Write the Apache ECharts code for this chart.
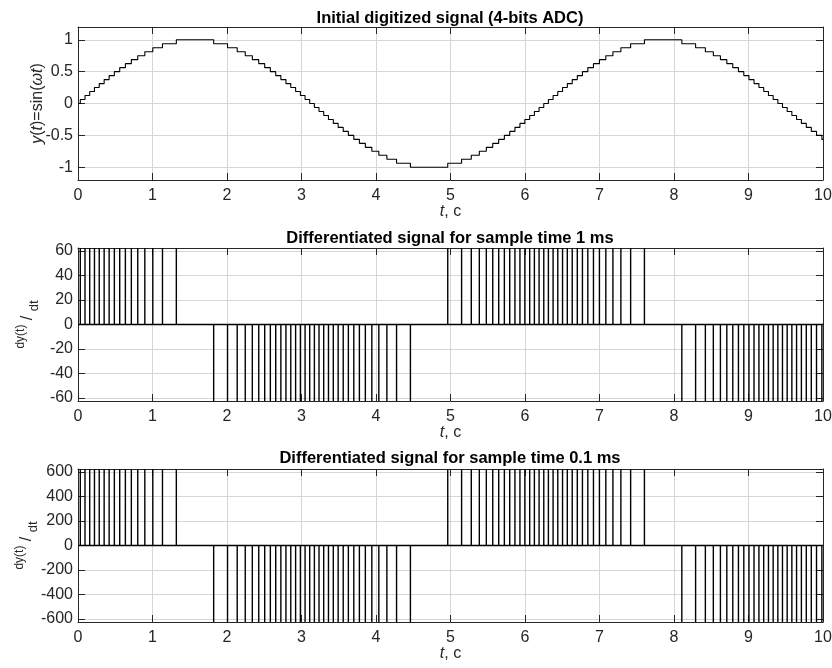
<!DOCTYPE html>
<html><head><meta charset="utf-8">
<script src="https://cdn.jsdelivr.net/npm/echarts@6/dist/echarts.min.js"></script>
<style>html,body{margin:0;padding:0;background:#fff}#c{width:832px;height:668px}</style>
</head><body><div id="c"></div>
<script>
// Transition instants of the quantized signal (s)
const stepTimes = [
  0.031, 0.094, 0.157, 0.221, 0.285, 0.351, 0.418, 0.488, 0.560, 0.636, 0.716, 0.802, 0.897, 1.004, 1.134, 1.320,
  1.821, 2.007, 2.137, 2.245, 2.340, 2.426, 2.506, 2.582, 2.654, 2.723, 2.791, 2.856, 2.921, 2.985, 3.048, 3.110,
  3.173, 3.235, 3.298, 3.362, 3.427, 3.492, 3.560, 3.629, 3.702, 3.777, 3.857, 3.944, 4.038, 4.146, 4.276, 4.462,
  4.963, 5.149, 5.279, 5.387, 5.481, 5.567, 5.647, 5.723, 5.795, 5.865, 5.932, 5.998, 6.063, 6.126, 6.189, 6.252,
  6.314, 6.377, 6.440, 6.504, 6.568, 6.634, 6.702, 6.771, 6.843, 6.919, 6.999, 7.085, 7.180, 7.287, 7.418, 7.603,
  8.105, 8.290, 8.421, 8.528, 8.623, 8.709, 8.789, 8.865, 8.937, 9.006, 9.074, 9.140, 9.204, 9.268, 9.331, 9.394,
  9.456, 9.519, 9.582, 9.645, 9.710, 9.776, 9.843, 9.913, 9.985
];
// Quantized level held after each transition
const stepLevels = [
  0.0625, 0.125, 0.1875, 0.25, 0.3125, 0.375, 0.4375, 0.5, 0.5625, 0.625, 0.6875, 0.75, 0.8125, 0.875, 0.9375, 1,
  0.9375, 0.875, 0.8125, 0.75, 0.6875, 0.625, 0.5625, 0.5, 0.4375, 0.375, 0.3125, 0.25, 0.1875, 0.125, 0.0625, 0,
  -0.0625, -0.125, -0.1875, -0.25, -0.3125, -0.375, -0.4375, -0.5, -0.5625, -0.625, -0.6875, -0.75, -0.8125, -0.875, -0.9375, -1,
  -0.9375, -0.875, -0.8125, -0.75, -0.6875, -0.625, -0.5625, -0.5, -0.4375, -0.375, -0.3125, -0.25, -0.1875, -0.125, -0.0625, 0,
  0.0625, 0.125, 0.1875, 0.25, 0.3125, 0.375, 0.4375, 0.5, 0.5625, 0.625, 0.6875, 0.75, 0.8125, 0.875, 0.9375, 1,
  0.9375, 0.875, 0.8125, 0.75, 0.6875, 0.625, 0.5625, 0.5, 0.4375, 0.375, 0.3125, 0.25, 0.1875, 0.125, 0.0625, 0,
  -0.0625, -0.125, -0.1875, -0.25, -0.3125, -0.375, -0.4375, -0.5, -0.5625
];
const initialLevel = 0;
// Spike heights of the differentiated signal at each transition
const dydt1ms = [
  62.5, 62.5, 62.5, 62.5, 62.5, 62.5, 62.5, 62.5, 62.5, 62.5, 62.5, 62.5, 62.5, 62.5, 62.5, 62.5,
  -62.5, -62.5, -62.5, -62.5, -62.5, -62.5, -62.5, -62.5, -62.5, -62.5, -62.5, -62.5, -62.5, -62.5, -62.5, -62.5,
  -62.5, -62.5, -62.5, -62.5, -62.5, -62.5, -62.5, -62.5, -62.5, -62.5, -62.5, -62.5, -62.5, -62.5, -62.5, -62.5,
  62.5, 62.5, 62.5, 62.5, 62.5, 62.5, 62.5, 62.5, 62.5, 62.5, 62.5, 62.5, 62.5, 62.5, 62.5, 62.5,
  62.5, 62.5, 62.5, 62.5, 62.5, 62.5, 62.5, 62.5, 62.5, 62.5, 62.5, 62.5, 62.5, 62.5, 62.5, 62.5,
  -62.5, -62.5, -62.5, -62.5, -62.5, -62.5, -62.5, -62.5, -62.5, -62.5, -62.5, -62.5, -62.5, -62.5, -62.5, -62.5,
  -62.5, -62.5, -62.5, -62.5, -62.5, -62.5, -62.5, -62.5, -62.5
];
const dydt01ms = [
  625, 625, 625, 625, 625, 625, 625, 625, 625, 625, 625, 625, 625, 625, 625, 625,
  -625, -625, -625, -625, -625, -625, -625, -625, -625, -625, -625, -625, -625, -625, -625, -625,
  -625, -625, -625, -625, -625, -625, -625, -625, -625, -625, -625, -625, -625, -625, -625, -625,
  625, 625, 625, 625, 625, 625, 625, 625, 625, 625, 625, 625, 625, 625, 625, 625,
  625, 625, 625, 625, 625, 625, 625, 625, 625, 625, 625, 625, 625, 625, 625, 625,
  -625, -625, -625, -625, -625, -625, -625, -625, -625, -625, -625, -625, -625, -625, -625, -625,
  -625, -625, -625, -625, -625, -625, -625, -625, -625
];
const tMin = 0, tMax = 10, tStep = 1;
const yTicksTop = [-1, -0.5, 0, 0.5, 1];
const yTicksMid = [-60, -40, -20, 0, 20, 40, 60];
const yTicksBot = [-600, -400, -200, 0, 200, 400, 600];
const yLimTop = [-1.2, 1.2];
const yLimMid = [-62.5, 62.5];
const yLimBot = [-625, 625];
const titles = [
  'Initial digitized signal (4-bits ADC)',
  'Differentiated signal for sample time 1 ms',
  'Differentiated signal for sample time 0.1 ms'
];

const FONT = "'Liberation Sans', Arial, Helvetica, sans-serif";
const AX = '#262626';
const GRIDC = '#d6d6d6';

const stepData = [[tMin, initialLevel]];
stepTimes.forEach((t, i) => stepData.push([t, stepLevels[i]]));
stepData.push([tMax, stepLevels[stepLevels.length - 1]]);

function spikeData(h) {
  const d = [[tMin, 0]];
  stepTimes.forEach((t, i) => { d.push([t, 0], [t, h[i]], [t, 0]); });
  d.push([tMax, 0]);
  return d;
}

const grids = [
  {left: 78, right: 9, top: 27, height: 153, outerBoundsMode: 'none', containLabel: false},
  {left: 78, right: 9, top: 248, height: 153, outerBoundsMode: 'none', containLabel: false},
  {left: 78, right: 9, top: 469, height: 153, outerBoundsMode: 'none', containLabel: false}
];

const xAxes = [], yAxes = [];
const yConf = [
  {lim: yLimTop, ticks: yTicksTop, name: '{i|y}({i|t})=sin({i|ωt})', gap: 32},
  {lim: yLimMid, ticks: yTicksMid, name: '{sup|dy(t)}{n| / }{sub|dt}', gap: 37},
  {lim: yLimBot, ticks: yTicksBot, name: '{sup|dy(t)}{n| / }{sub|dt}', gap: 38}
];
const nameRich = {
  i: {fontStyle: 'italic', fontSize: 16, fontFamily: FONT, color: AX},
  n: {fontSize: 16, fontFamily: FONT, color: AX},
  sup: {fontSize: 12, fontFamily: FONT, color: AX, verticalAlign: 'top', lineHeight: 26},
  sub: {fontSize: 13, fontFamily: FONT, color: AX, verticalAlign: 'bottom', lineHeight: 26}
};
for (let g = 0; g < 3; g++) {
  xAxes.push({
    gridIndex: g, type: 'value', position: 'bottom', min: tMin, max: tMax, interval: tStep,
    axisLine: {show: true, onZero: false, lineStyle: {color: AX, width: 1}},
    axisTick: {show: true, inside: true, length: 7, lineStyle: {color: AX}},
    axisLabel: {show: true, color: AX, fontSize: 16, fontFamily: FONT, margin: 8},
    splitLine: {show: true, lineStyle: {color: GRIDC, width: 1}},
    name: '{i|t}, c', nameLocation: 'middle', nameGap: 24, nameMoveOverlap: false,
    nameTextStyle: {fontSize: 16, fontFamily: FONT, color: AX, rich: nameRich}
  });
  xAxes.push({
    gridIndex: g, type: 'value', position: 'top', min: tMin, max: tMax, interval: tStep,
    axisLine: {show: true, onZero: false, lineStyle: {color: AX, width: 1}},
    axisTick: {show: true, inside: true, length: 7, lineStyle: {color: AX}},
    axisLabel: {show: false}, splitLine: {show: false}
  });
  const c = yConf[g];
  yAxes.push({
    gridIndex: g, type: 'value', position: 'left', min: c.lim[0], max: c.lim[1],
    axisLine: {show: true, onZero: false, lineStyle: {color: AX, width: 1}},
    axisTick: {show: true, inside: true, length: 7, customValues: c.ticks, lineStyle: {color: AX}},
    axisLabel: {show: true, customValues: c.ticks, color: AX, fontSize: 16, fontFamily: FONT, margin: 5},
    splitLine: {show: true, lineStyle: {color: GRIDC, width: 1}},
    name: c.name, nameLocation: 'middle', nameGap: c.gap, nameRotate: 90, nameMoveOverlap: false,
    nameTextStyle: {fontSize: 16, fontFamily: FONT, color: AX, rich: nameRich}
  });
  yAxes.push({
    gridIndex: g, type: 'value', position: 'right', min: c.lim[0], max: c.lim[1],
    axisLine: {show: true, onZero: false, lineStyle: {color: AX, width: 1}},
    axisTick: {show: true, inside: true, length: 7, customValues: c.ticks, lineStyle: {color: AX}},
    axisLabel: {show: false}, splitLine: {show: false}
  });
}

const lineBase = {type: 'line', showSymbol: false, symbol: 'none', animation: false, silent: true};

const option = {
  animation: false,
  backgroundColor: '#fff',
  grid: grids,
  xAxis: xAxes,
  yAxis: yAxes,
  series: [
    Object.assign({}, lineBase, {xAxisIndex: 0, yAxisIndex: 0, step: 'end', data: stepData,
      lineStyle: {color: '#000', width: 1.1}}),
    Object.assign({}, lineBase, {xAxisIndex: 2, yAxisIndex: 2, data: spikeData(dydt1ms),
      lineStyle: {color: '#000', width: 1.4}}),
    Object.assign({}, lineBase, {xAxisIndex: 4, yAxisIndex: 4, data: spikeData(dydt01ms),
      lineStyle: {color: '#000', width: 1.4}})
  ],
  graphic: titles.map((t, i) => ({
    type: 'text', x: 450, y: [18, 238, 458][i],
    style: {text: t, fontSize: 16.5, fontWeight: 'bold', fontFamily: FONT, fill: '#000',
      textAlign: 'center', textVerticalAlign: 'middle'}
  }))
};

const chart = echarts.init(document.getElementById('c'), null, {renderer: 'canvas'});
chart.setOption(option);
</script>
</body></html>
